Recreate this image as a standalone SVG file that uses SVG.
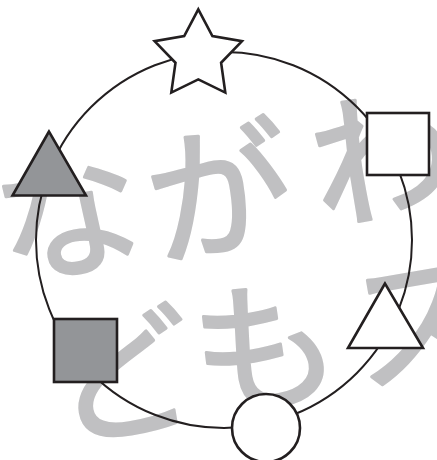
<svg xmlns="http://www.w3.org/2000/svg" width="437" height="460" viewBox="0 0 437 460">
  <style>
    .wm { font-family: "Noto Sans CJK JP", "Noto Sans CJK SC", sans-serif; font-size: 145px; font-weight: 400; fill: #c0c0c2; stroke: #c0c0c2; stroke-width: 3; stroke-linejoin: round; text-anchor: middle; }
    .node { stroke: #231f20; stroke-width: 2.6; stroke-linejoin: miter; }
    .white { fill: #ffffff; }
    .gray { fill: #939598; }
    .ring { fill: none; stroke: #231f20; stroke-width: 2; }
  </style>
  <rect width="437" height="460" fill="#ffffff"/>
  <g id="watermark">
    <text class="wm" x="68" y="267" transform="rotate(-10 68 216)">な</text>
    <text class="wm" x="220" y="246" transform="rotate(-10 220 195)">が</text>
    <text class="wm" x="383" y="211" transform="rotate(-10 383 160)">わ</text>
    <text class="wm" x="122" y="429" transform="rotate(-10 122 378)">ど</text>
    <text class="wm" x="265" y="401" transform="rotate(-10 265 350)">も</text>
    <text class="wm" x="421" y="374" transform="rotate(-10 421 323)">ス</text>
  </g>
  <g id="connectors">
    <circle class="ring" cx="224" cy="240" r="188"/>
  </g>
  <g id="star">
    <polygon class="node white" points="198.3,9.4 212.4,36 242,41.2 221.1,62.8 225.3,92.6 198.3,79.4 171.3,92.6 175.5,62.8 154.6,41.2 184.2,36"/>
  </g>
  <g id="square-white">
    <rect class="node white" x="367" y="113" width="62" height="62"/>
  </g>
  <g id="triangle-white">
    <polygon class="node white" points="385,283.5 348,348 423,348"/>
  </g>
  <g id="circle-node">
    <circle class="node white" cx="266" cy="428" r="34"/>
  </g>
  <g id="square-gray">
    <rect class="node gray" x="54" y="319" width="63" height="63"/>
  </g>
  <g id="triangle-gray">
    <polygon class="node gray" points="49,131.5 12.5,195.5 86,195.5"/>
  </g>
</svg>
